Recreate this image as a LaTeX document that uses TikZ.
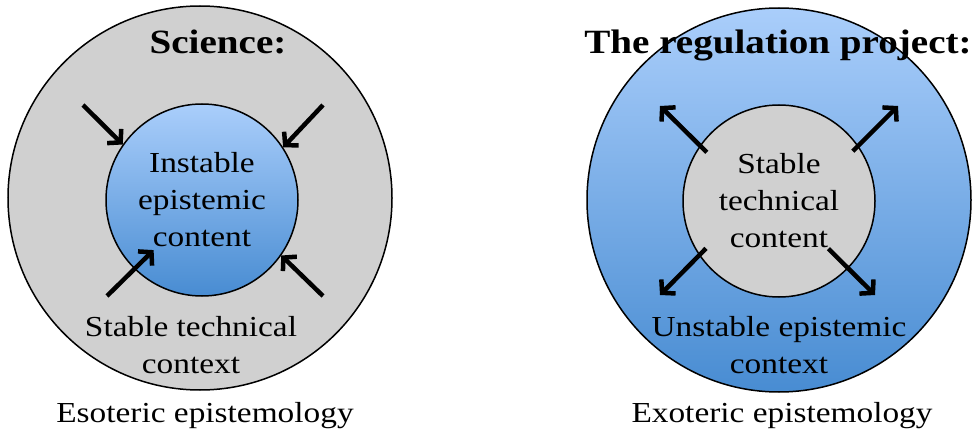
\documentclass[tikz,border=0pt]{standalone}
\usepackage{fontspec}
\setmainfont[FakeStretch=1.15]{Liberation Serif}
\usetikzlibrary{arrows.meta,calc}
\definecolor{discgray}{RGB}{208,208,208}
\definecolor{bluetop}{RGB}{170,206,251}
\definecolor{bluebottom}{RGB}{72,140,210}
\tikzset{%
  outer disc/.style={
    circle,
    draw,
    line width=1.5pt,
    minimum size=384pt,
    inner sep=0pt
  },
  inner disc/.style={
    circle,
    draw,
    line width=1.5pt,
    minimum size=192pt,
    inner sep=0pt,
    align=center,
    font=\fontsize{29}{37}\selectfont
  },
  blue shade/.style={top color=bluetop, bottom color=bluebottom},
  push/.style={line width=4.5pt, -{Straight Barb[length=9pt,width=20pt]}},
  title/.style={font=\fontsize{34}{40}\selectfont\bfseries, anchor=base},
  caption/.style={font=\fontsize{29}{37}\selectfont, anchor=base, align=center},
}

\begin{document}
\begin{tikzpicture}[x=1pt,y=-1pt]
\useasboundingbox (0,0) rectangle (978,441);
% science
\node[outer disc,fill=discgray] (sci) at (200,198) {};
\node[inner disc,blue shade] (sciin) at (202,200) {Instable\\epistemic\\content};
\coordinate (sci nw) at (83,105);
\coordinate (sci ne) at (323,105);
\coordinate (sci sw) at (107,296);
\coordinate (sci se) at (323,296);
\draw[push] (sci nw) -- (sciin.145);
\draw[push] (sci ne) -- (sciin.33);
\draw[push] (sci sw) -- ($(sciin.center)!0.72!(sciin.226)$);
\draw[push] (sci se) -- (sciin.-35);
\node[caption] (sci ctx) at (191,373) {Stable technical\\context};
\node[title] (sci title) at (218,54) {Science:};
\node[caption] (sci label) at (205,422) {Esoteric epistemology};
% regulation
\node[outer disc,blue shade] (reg) at (779,200) {};
\node[inner disc,fill=discgray] (regin) at (779,201) {Stable\\technical\\content};
\coordinate (reg nw) at (660,106);
\coordinate (reg ne) at (898,106);
\coordinate (reg sw) at (660,295);
\coordinate (reg se) at (875,295);
\draw[push] ($(regin.center)!0.9!(regin.146)$) -- (reg nw);
\draw[push] ($(regin.center)!0.92!(regin.34)$) -- (reg ne);
\draw[push] ($(regin.center)!0.9!(regin.-147)$) -- (reg sw);
\draw[push] ($(regin.center)!0.71!(regin.-44)$) -- (reg se);
\node[caption] (reg ctx) at (779,373) {Unstable epistemic\\context};
\node[title] (reg title) at (778,54) {The regulation project:};
\node[caption] (reg label) at (782,422) {Exoteric epistemology};
\end{tikzpicture}
\end{document}
